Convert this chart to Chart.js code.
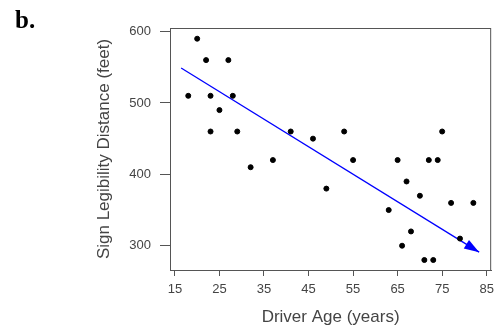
<!DOCTYPE html>
<html>
<head>
<meta charset="utf-8">
<script src="https://cdn.jsdelivr.net/npm/chart.js@4"></script>
<style>
    body { margin: 0; background: #fff; }
</style>
</head>
<body>
<canvas id="chart" width="500" height="328"></canvas>
<script>
// driver age (years) and sign legibility distance (feet)
const ages = [18, 20, 22, 23, 23, 25, 27, 28, 29, 32, 37, 41, 46, 49, 53, 55,
    63, 65, 66, 67, 68, 70, 71, 72, 73, 74, 75, 77, 79, 82];
const distances = [510, 590, 560, 510, 460, 490, 560, 510, 460, 410, 420, 460, 450, 380, 460, 420,
    350, 420, 300, 390, 320, 370, 280, 420, 280, 420, 460, 360, 310, 360];

// trend line with arrow, start and end
const trendAges = [16.4, 83.3];
const trendDistances = [549, 291];

const xTicks = [15, 25, 35, 45, 55, 65, 75, 85];
const yTicks = [300, 400, 500, 600];

const textColor = "#444";
const axisColor = "#555";
const sans = "'Liberation Sans', Arial, sans-serif";

// frame round the plot, the "b." label and the arrow head
const extras = {
    id: "extras",
    afterDraw(chart) {
        const ctx = chart.ctx;
        const a = chart.chartArea;
        ctx.save();
        ctx.strokeStyle = axisColor;
        ctx.lineWidth = 1;
        ctx.strokeRect(a.left + 0.5, a.top + 0.5, a.right - a.left - 1, a.bottom - a.top);

        ctx.fillStyle = "#000";
        ctx.font = "bold 25px 'Liberation Serif', serif";
        ctx.textBaseline = "alphabetic";
        ctx.fillText("b.", 15, 28);

        const pts = chart.getDatasetMeta(1).data;
        const p0 = pts[0], p1 = pts[pts.length - 1];
        const ang = Math.atan2(p1.y - p0.y, p1.x - p0.x);
        const len = 15, half = 5;
        ctx.fillStyle = "#0000ff";
        ctx.beginPath();
        ctx.moveTo(p1.x, p1.y);
        ctx.lineTo(p1.x - len * Math.cos(ang) + half * Math.sin(ang), p1.y - len * Math.sin(ang) - half * Math.cos(ang));
        ctx.lineTo(p1.x - len * Math.cos(ang) - half * Math.sin(ang), p1.y - len * Math.sin(ang) + half * Math.cos(ang));
        ctx.closePath();
        ctx.fill();
        ctx.restore();
    }
};

new Chart(document.getElementById("chart"), {
    type: "scatter",
    data: {
        datasets: [
            {
                data: ages.map((a, i) => ({ x: a, y: distances[i] })),
                backgroundColor: "#000",
                borderColor: "#000",
                pointRadius: 2.5,
                pointHoverRadius: 2.5,
            },
            {
                type: "line",
                data: trendAges.map((a, i) => ({ x: a, y: trendDistances[i] })),
                borderColor: "#0000ff",
                borderWidth: 1.3,
                pointRadius: 0,
                fill: false,
            },
        ],
    },
    options: {
        responsive: false,
        animation: false,
        layout: { padding: { top: 28, right: 4, left: 0, bottom: 0 } },
        plugins: {
            legend: { display: false },
            tooltip: { enabled: false },
        },
        scales: {
            x: {
                type: "linear",
                min: 13.9,
                max: 86,
                afterBuildTicks: (s) => { s.ticks = xTicks.map((v) => ({ value: v })); },
                afterFit: (s) => { s.height = 58; },
                grid: { drawOnChartArea: false, drawTicks: true, tickLength: 6, color: axisColor },
                border: { display: true, color: axisColor },
                ticks: {
                    color: textColor,
                    padding: 6,
                    maxRotation: 0,
                    font: { family: sans, size: 13 },
                },
                title: {
                    display: true,
                    text: "Driver Age (years)",
                    color: textColor,
                    padding: { top: 0, bottom: 0 },
                    font: { family: sans, size: 17 },
                },
            },
            y: {
                min: 266,
                max: 605,
                afterBuildTicks: (s) => { s.ticks = yTicks.map((v) => ({ value: v })); },
                afterFit: (s) => { s.width = 170; },
                grid: { drawOnChartArea: false, drawTicks: true, tickLength: 10, color: axisColor },
                border: { display: true, color: axisColor },
                ticks: {
                    color: textColor,
                    padding: 9,
                    font: { family: sans, size: 13 },
                },
                title: {
                    display: true,
                    text: "Sign Legibility Distance (feet)",
                    color: textColor,
                    padding: { top: 94, bottom: 0 },
                    font: { family: sans, size: 17 },
                },
            },
        },
    },
    plugins: [extras],
});
</script>
</body>
</html>
